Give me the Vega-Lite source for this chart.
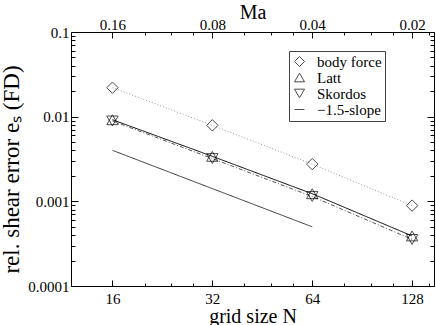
{
  "$schema": "https://vega.github.io/schema/vega-lite/v6.json",
  "width": 363,
  "height": 254,
  "autosize": {"type": "none"},
  "padding": {"left": 71, "top": 32, "right": 2, "bottom": 39},
  "background": "white",
  "data": {
    "values": [
      {"N": 16, "e": 0.022, "series": "body force"},
      {"N": 32, "e": 0.0079, "series": "body force"},
      {"N": 64, "e": 0.00275, "series": "body force"},
      {"N": 128, "e": 0.00089, "series": "body force"},
      {"N": 16, "e": 0.0092, "series": "Latt"},
      {"N": 32, "e": 0.0034, "series": "Latt"},
      {"N": 64, "e": 0.00123, "series": "Latt"},
      {"N": 128, "e": 0.00039, "series": "Latt"},
      {"N": 16, "e": 0.0089, "series": "Skordos"},
      {"N": 32, "e": 0.0032, "series": "Skordos"},
      {"N": 64, "e": 0.00114, "series": "Skordos"},
      {"N": 128, "e": 0.000355, "series": "Skordos"},
      {"N": 16, "e": 0.004, "series": "−1.5-slope"},
      {"N": 64, "e": 0.0005, "series": "−1.5-slope"}
    ]
  },
  "resolve": {"axis": {"x": "independent", "y": "independent"}},
  "layer": [
    {
      "mark": {"type": "line", "strokeWidth": 1},
      "encoding": {
        "x": {"field": "N", "type": "quantitative",
          "scale": {"type": "log", "base": 2, "domain": [12, 149], "nice": false, "zero": false},
          "axis": {"orient": "bottom", "values": [16, 32, 64, 128], "format": "d", "ticks": false, "tickSize": 0, "labelPadding": 5, "labelFlush": false, "labelOverlap": false, "title": "grid size N", "titlePadding": 0}},
        "y": {"field": "e", "type": "quantitative",
          "scale": {"type": "log", "domain": [0.0001, 0.1], "nice": false, "zero": false},
          "axis": {"orient": "left", "values": [0.0001, 0.001, 0.01, 0.1], "format": "~g", "ticks": false, "tickSize": 0, "labelPadding": 2, "labelFlush": false, "labelOverlap": false, "title": "rel. shear error eₛ (FD)", "titleFontSize": 23, "titleAngle": -90, "titleX": -60, "titleY": 137, "titleAlign": "center", "titleBaseline": "middle"}},
        "stroke": {"field": "series", "type": "nominal",
          "scale": {"domain": ["−1.5-slope", "Skordos", "Latt", "body force"], "range": ["#333333", "#555555", "#000000", "#999999"]},
          "legend": null},
        "strokeDash": {"field": "series", "type": "nominal",
          "scale": {"domain": ["−1.5-slope", "Skordos", "Latt", "body force"], "range": [[1, 0], [4, 2, 1, 2], [1, 0], [1, 2]]},
          "legend": null},
        "order": {"field": "N", "type": "quantitative"}
      }
    },
    {
      "transform": [{"filter": "datum.series != '−1.5-slope'"}],
      "mark": {"type": "point", "filled": false, "strokeWidth": 1, "size": 130, "color": "#000000"},
      "encoding": {
        "x": {"field": "N", "type": "quantitative",
          "axis": {"orient": "bottom", "values": [16, 32, 64, 128], "labels": false, "tickSize": -6, "title": null}},
        "y": {"field": "e", "type": "quantitative",
          "axis": {"orient": "left", "values": [0.0001, 0.001, 0.01, 0.1], "labels": false, "tickSize": -7, "title": null}},
        "shape": {"field": "series", "type": "nominal",
          "scale": {"domain": ["body force", "Latt", "Skordos", "−1.5-slope"], "range": ["diamond", "triangle-up", "triangle-down", "stroke"]},
          "legend": {
            "title": null,
            "orient": "none",
            "legendX": 218,
            "legendY": 19,
            "strokeColor": "#444444",
            "fillColor": "#ffffff",
            "padding": 3,
            "cornerRadius": 0,
            "labelFont": "Liberation Serif",
            "labelFontSize": 15,
            "labelColor": "#000000",
            "symbolSize": 100,
            "symbolStrokeWidth": 1,
            "symbolFillColor": "transparent",
            "symbolStrokeColor": "#000000",
            "rowPadding": 0,
            "labelOffset": 10,
            "encode": {
              "symbols": {"update": {"stroke": {"signal": "datum.value === '−1.5-slope' ? '#888888' : '#000000'"}, "fill": {"value": "transparent"}}}
            }
          }}
      }
    },
    {
      "mark": {"type": "point", "opacity": 0},
      "encoding": {
        "x": {"field": "N", "type": "quantitative",
          "axis": {"orient": "bottom", "values": [20, 24, 28, 40, 48, 56, 80, 96, 112, 144], "labels": false, "tickSize": -3, "title": null}},
        "y": {"field": "e", "type": "quantitative",
          "axis": {"orient": "left", "values": [0.0002, 0.0003, 0.0004, 0.0005, 0.0006, 0.0007, 0.0008, 0.0009, 0.002, 0.003, 0.004, 0.005, 0.006, 0.007, 0.008, 0.009, 0.02, 0.03, 0.04, 0.05, 0.06, 0.07, 0.08, 0.09], "labels": false, "tickSize": -4, "title": null}}
      }
    },
    {
      "mark": {"type": "point", "opacity": 0},
      "encoding": {
        "x": {"field": "N", "type": "quantitative",
          "axis": {"orient": "top", "values": [16, 32, 64, 128], "labelExpr": "format(2.56/datum.value, '.2f')", "ticks": false, "tickSize": 0, "labelPadding": 0, "labelFlush": false, "labelOverlap": false, "title": "Ma", "titlePadding": -5}},
        "y": {"field": "e", "type": "quantitative",
          "axis": {"orient": "right", "values": [0.0001, 0.001, 0.01, 0.1], "labels": false, "tickSize": -7, "title": null}}
      }
    },
    {
      "mark": {"type": "point", "opacity": 0},
      "encoding": {
        "x": {"field": "N", "type": "quantitative",
          "axis": {"orient": "top", "values": [16, 32, 64, 128], "labels": false, "tickSize": -6, "title": null}},
        "y": {"field": "e", "type": "quantitative",
          "axis": {"orient": "right", "values": [0.0002, 0.0003, 0.0004, 0.0005, 0.0006, 0.0007, 0.0008, 0.0009, 0.002, 0.003, 0.004, 0.005, 0.006, 0.007, 0.008, 0.009, 0.02, 0.03, 0.04, 0.05, 0.06, 0.07, 0.08, 0.09], "labels": false, "tickSize": -4, "title": null}}
      }
    },
    {
      "mark": {"type": "point", "opacity": 0},
      "encoding": {
        "x": {"field": "N", "type": "quantitative",
          "axis": {"orient": "top", "values": [20, 24, 28, 40, 48, 56, 80, 96, 112, 144], "labels": false, "tickSize": -3, "title": null}},
        "y": {"field": "e", "type": "quantitative", "axis": null}
      }
    }
  ],
  "config": {
    "view": {"stroke": "#000000", "strokeWidth": 1},
    "axis": {
      "domain": false,
      "grid": false,
      "tickColor": "#000000",
      "tickWidth": 1,
      "labelFont": "Liberation Serif",
      "labelFontSize": 15,
      "labelColor": "#000000",
      "titleFont": "Liberation Serif",
      "titleFontSize": 20,
      "titleFontWeight": "normal",
      "titleColor": "#000000"
    }
  }
}
